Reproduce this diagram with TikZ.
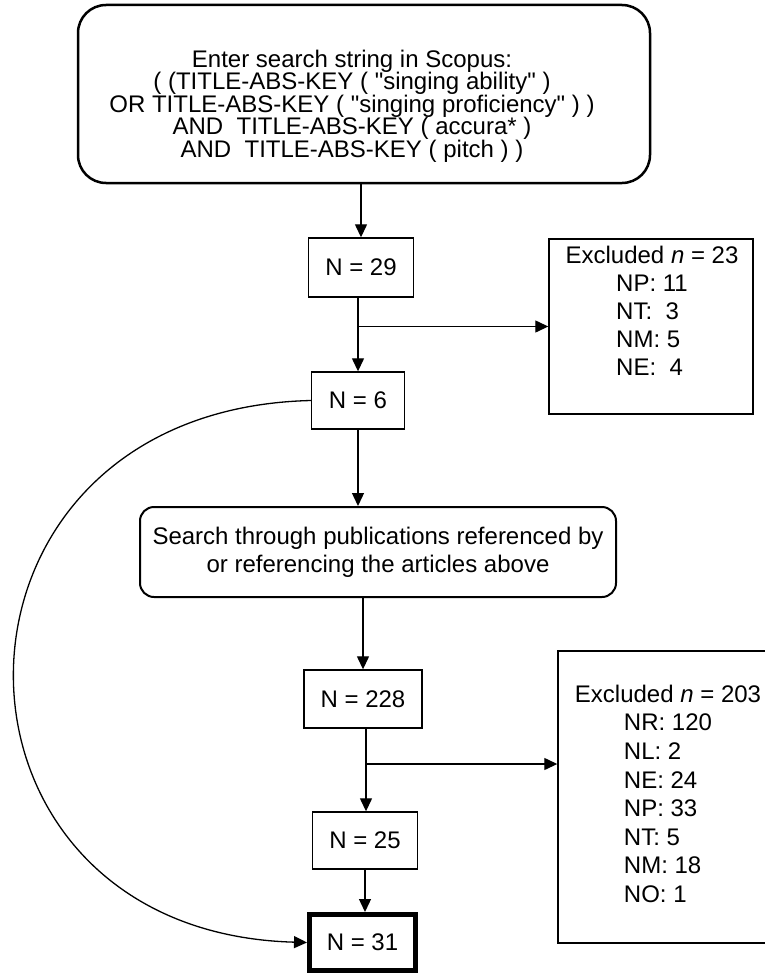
\documentclass[tikz,border=0pt]{standalone}
\usepackage{fontspec}
\setmainfont{Liberation Sans}[Ligatures=TeXOff]
\usetikzlibrary{arrows.meta}

\begin{document}
\begin{tikzpicture}[
    x=1pt, y=-1pt,
    font=\fontsize{24}{28}\selectfont,
    count/.style={draw, line width=1.4pt, inner sep=0pt},
    final/.style={count, line width=5pt},
    search/.style={draw, rounded corners=14pt, line width=2pt, inner sep=0pt, align=center},
    frame/.style={draw, line width=1.4pt, inner sep=0pt},
    flow/.style={line width=1.3pt},
    >={Triangle[length=13pt,width=12pt]}
]
\clip (0,0) rectangle (765,974);

% Suchanfrage
\node[draw, rounded corners=28pt, line width=2.5pt, minimum width=572pt, minimum height=178pt] (top) at (364,94) {};
\node[align=center, font=\fontsize{24}{22.5}\selectfont] (query) at (352,106) {Enter search string in Scopus:\\
  ( (TITLE-ABS-KEY ( "singing ability" )\\
  OR TITLE-ABS-KEY ( "singing proficiency" ) )\\
  AND\ \ TITLE-ABS-KEY ( accura* )\\
  AND\ \ TITLE-ABS-KEY ( pitch ) )};

% Zaehlungen
\node[count, minimum width=105pt, minimum height=59pt] (n29) at (361,267.5) {N = 29};
\node[count, minimum width=93pt, minimum height=57pt] (n6) at (358,400.5) {N = 6};
\node[search, minimum width=476pt, minimum height=90pt] (search) at (378,552) {Search through publications referenced by\\ or referencing the articles above};
\node[count, minimum width=118pt, minimum height=58pt] (n228) at (363,699) {N = 228};
\node[count, minimum width=105pt, minimum height=57pt] (n25) at (365,840.5) {N = 25};
\node[final, minimum width=106pt, minimum height=56pt] (n31) at (362.5,942.5) {N = 31};

% Ausschluesse
\node[frame, minimum width=204pt, minimum height=175pt] (excl1) at (651,326.5) {};
\node[align=center] (excl1text) at (652,315) {Excluded \textit{n} = 23\\
  \begin{tabular}[t]{@{}l@{}}NP: 11\\ NT:\ \ 3\\ NM: 5\\ NE:\ \ 4\end{tabular}};
\node[frame, minimum width=232pt, minimum height=292pt] (excl2) at (674,797) {};
\node[align=center, font=\fontsize{24}{28.6}\selectfont] (excl2text) at (668,798) {Excluded \textit{n} = 203\\
  \begin{tabular}[t]{@{}l@{}}NR: 120\\ NL: 2\\ NE: 24\\ NP: 33\\ NT: 5\\ NM: 18\\ NO: 1\end{tabular}};

% Verzweigungen
\coordinate (split1) at (n6.north |- excl1.west);
\coordinate (split2) at (366,764);

% Pfeile
\draw[flow, ->] (top.south -| n29.north) -- (n29.north);
\draw[flow, ->] (n29.south -| n6.north) -- (n6.north);
\draw[flow, ->] (split1) -- (excl1.west);
\draw[flow, ->] (n6.south) -- (n6.south |- search.north);
\draw[flow, ->] (search.south -| n228.north) -- (n228.north);
\draw[flow] (n228.south -| split2) -- (split2);
\draw[flow, ->] (split2) -- (n25.north -| split2);
\draw[flow, ->] (split2) -- (split2 -| excl2.west);
\draw[flow, ->] (n25.south) -- (n25.south |- n31.north);
\draw[flow, ->] (n6.west) .. controls (-83,410) and (-83,932) .. (n31.west);

\end{tikzpicture}
\end{document}
